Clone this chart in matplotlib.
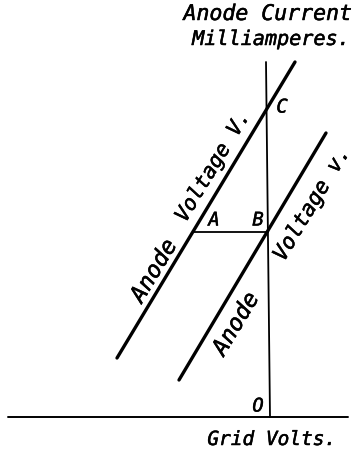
import matplotlib
matplotlib.use("Agg")
import matplotlib.pyplot as plt
import matplotlib.patheffects as pe

# Schematic data (arbitrary units: grid volts horizontally, anode current vertically)
grid_axis_x = [-26.2, 7.8]
grid_axis_y = [0.0, 0.0]
current_axis_x = [-0.4, 0.0]
current_axis_y = [35.5, 0.0]

line_V_grid = [-15.3, 2.5]      # anode voltage V
line_V_current = [5.9, 35.5]
line_v_grid = [-9.1, 5.6]       # anode voltage v
line_v_current = [3.7, 28.4]
ab_grid = [-7.7, -0.2]          # horizontal A-B
ab_current = [18.5, 18.5]

fig = plt.figure(figsize=(3.56, 4.51), dpi=100)
ax = fig.add_axes([0, 0, 1, 1])
ax.set_xlim(-27.0, 8.6)
ax.set_ylim(-3.4, 41.7)
ax.axis("off")

k = dict(color="black", solid_capstyle="round")
ax.plot(grid_axis_x, grid_axis_y, lw=1.4, **k)
ax.plot(current_axis_x, current_axis_y, lw=1.3, **k)
ax.plot(line_V_grid, line_V_current, lw=2.4, **k)
ax.plot(line_v_grid, line_v_current, lw=2.4, **k)
ax.plot(ab_grid, ab_current, lw=1.3, **k)

thick = [pe.withStroke(linewidth=0.35, foreground="black")]
font = dict(family="DejaVu Sans Mono", style="oblique", color="black",
            path_effects=thick)

ax.text(-0.2, 39.7, "Anode Current", ha="center", va="baseline", fontsize=15.5, **font)
ax.text(0.1, 37.2, "Milliamperes.", ha="center", va="baseline", fontsize=14.5, **font)
ax.text(0.2, -2.8, "Grid Volts.", ha="center", va="baseline", fontsize=14, **font)

ax.text(1.2, 31.0, "C", ha="center", va="center", fontsize=13.5, **font)
ax.text(-5.6, 19.7, "A", ha="center", va="center", fontsize=13.5, **font)
ax.text(-1.2, 19.7, "B", ha="center", va="center", fontsize=13.5, **font)
ax.text(-1.2, 1.1, "O", ha="center", va="center", fontsize=13.5, **font)

rot = 59
ax.text(-11.6, 14.6, "Anode", rotation=rot, rotation_mode="anchor",
        ha="center", va="center", fontsize=16.5, **font)
ax.text(-5.7, 25.1, "Voltage V.", rotation=rot, rotation_mode="anchor",
        ha="center", va="center", fontsize=15, **font)
ax.text(-3.4, 9.3, "Anode", rotation=rot, rotation_mode="anchor",
        ha="center", va="center", fontsize=16.5, **font)
ax.text(4.2, 21.3, "Voltage v.", rotation=rot, rotation_mode="anchor",
        ha="center", va="center", fontsize=15.4, **font)

fig.savefig("out.png", dpi=100, facecolor="white")
